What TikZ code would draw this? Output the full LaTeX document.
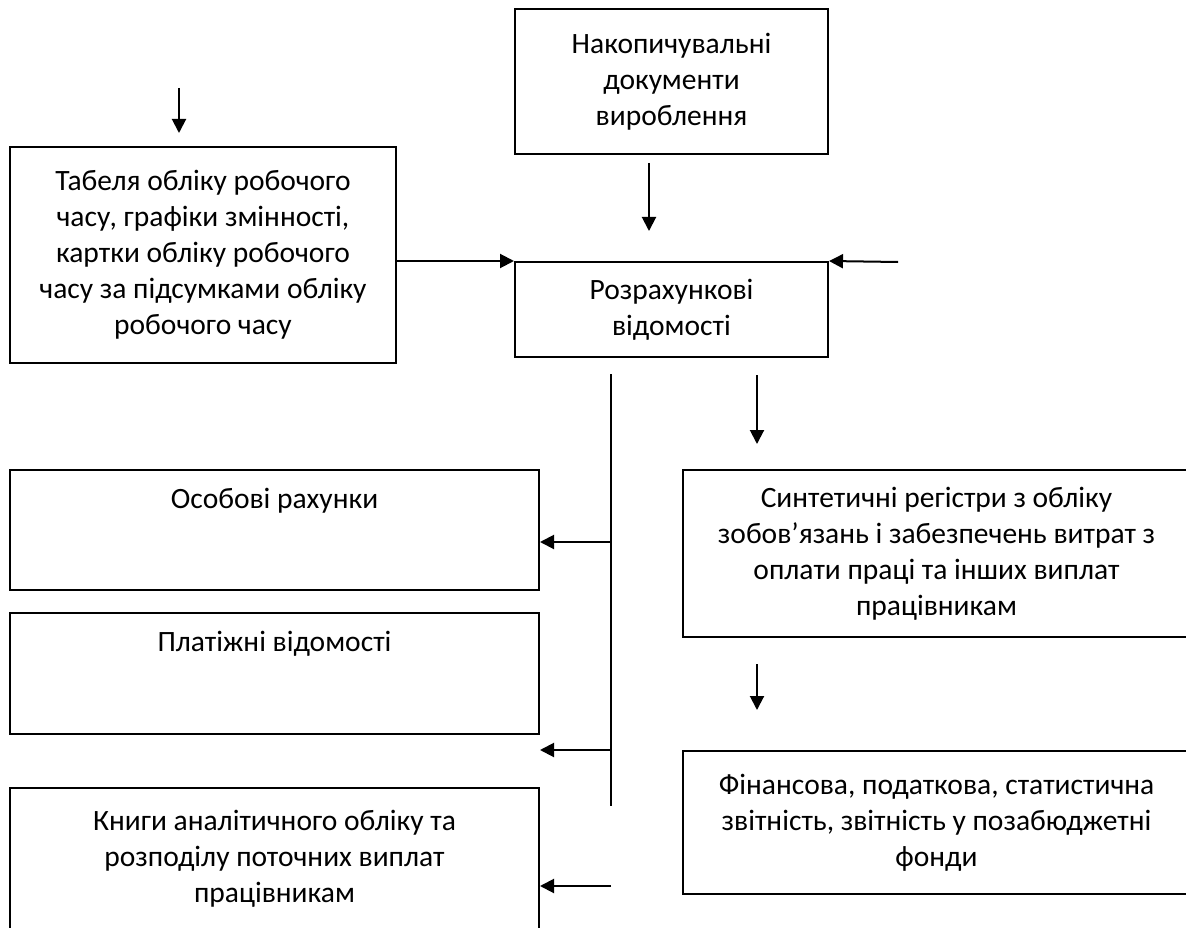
\documentclass[tikz,border=0pt]{standalone}
\usepackage{fontspec}
\setmainfont{Carlito}
\usetikzlibrary{arrows.meta}

\begin{document}
\begin{tikzpicture}[x=1pt, y=-1pt, >={Triangle[length=14pt, width=14pt]}, line width=2pt,
  every node/.style={font=\fontsize{29.5}{36}\selectfont},
  box/.style={draw, align=center, inner sep=0pt},
  topbox/.style={box, text height=38pt, text depth=#1}]
  \useasboundingbox (0,0) rectangle (1186,928);
  \clip (0,0) rectangle (1186,928);
  \node[box, minimum width=386pt, minimum height=216pt] (tabel) at (203,255) {Табеля обліку робочого\\часу, графіки змінності,\\картки обліку робочого\\часу за підсумками обліку\\робочого часу};
  \node[box, minimum width=313pt, minimum height=145pt] (nakop) at (671.5,81.5) {Накопичувальні\\документи\\вироблення};
  \node[box, minimum width=313pt, minimum height=95pt] (rozr) at (671.5,309.5) {Розрахункові\\відомості};
  \node[box, minimum width=507pt, minimum height=167pt] (sint) at (936.5,553.5) {Синтетичні регістри з обліку\\зобов’язань і забезпечень витрат з\\оплати праці та інших виплат\\працівникам};
  \node[box, minimum width=507pt, minimum height=143pt] (fin) at (936.5,822.5) {Фінансова, податкова, статистична\\звітність, звітність у позабюджетні\\фонди};
  \node[topbox=82pt, minimum width=529pt] (osob) at (274.5,530) {Особові рахунки};
  \node[topbox=83pt, minimum width=529pt] (plat) at (274.5,673.5) {Платіжні відомості};
  \node[box, minimum width=529pt, minimum height=142pt] (knyhy) at (274.5,859) {Книги аналітичного обліку та\\розподілу поточних виплат\\працівникам};
  % free ends and bus
  \coordinate (tabin) at (179,88);
  \coordinate (rozrin) at (898,262);
  \coordinate (nr) at (649,0);
  \coordinate (rs) at (757,0);
  \coordinate (bustop) at (611,374);
  \coordinate (busbot) at (611,806);
  \coordinate (b1) at (611,542);
  \coordinate (b2) at (611,750);
  \coordinate (b3) at (611,886);
  \draw[->, shorten >=13pt] (tabin) -- (tabin |- tabel.north);
  \draw[->, shorten <=8pt, shorten >=30pt] (nr |- nakop.south) -- (nr |- rozr.north);
  \draw[->] (tabel.east |- rozr.north west) -- (rozr.north west);
  \draw[->] (rozrin) -- (rozr.north east);
  \draw (bustop) -- (busbot);
  \draw[->] (b1) -- (b1 -| osob.east);
  \draw[->] (b2) -- (b2 -| plat.east);
  \draw[->] (b3) -- (b3 -| knyhy.east);
  \draw[->, shorten <=17pt, shorten >=25pt] (rs |- rozr.south) -- (rs |- sint.north);
  \draw[->, shorten <=26pt, shorten >=40pt] (rs |- sint.south) -- (rs |- fin.north);
\end{tikzpicture}
\end{document}
